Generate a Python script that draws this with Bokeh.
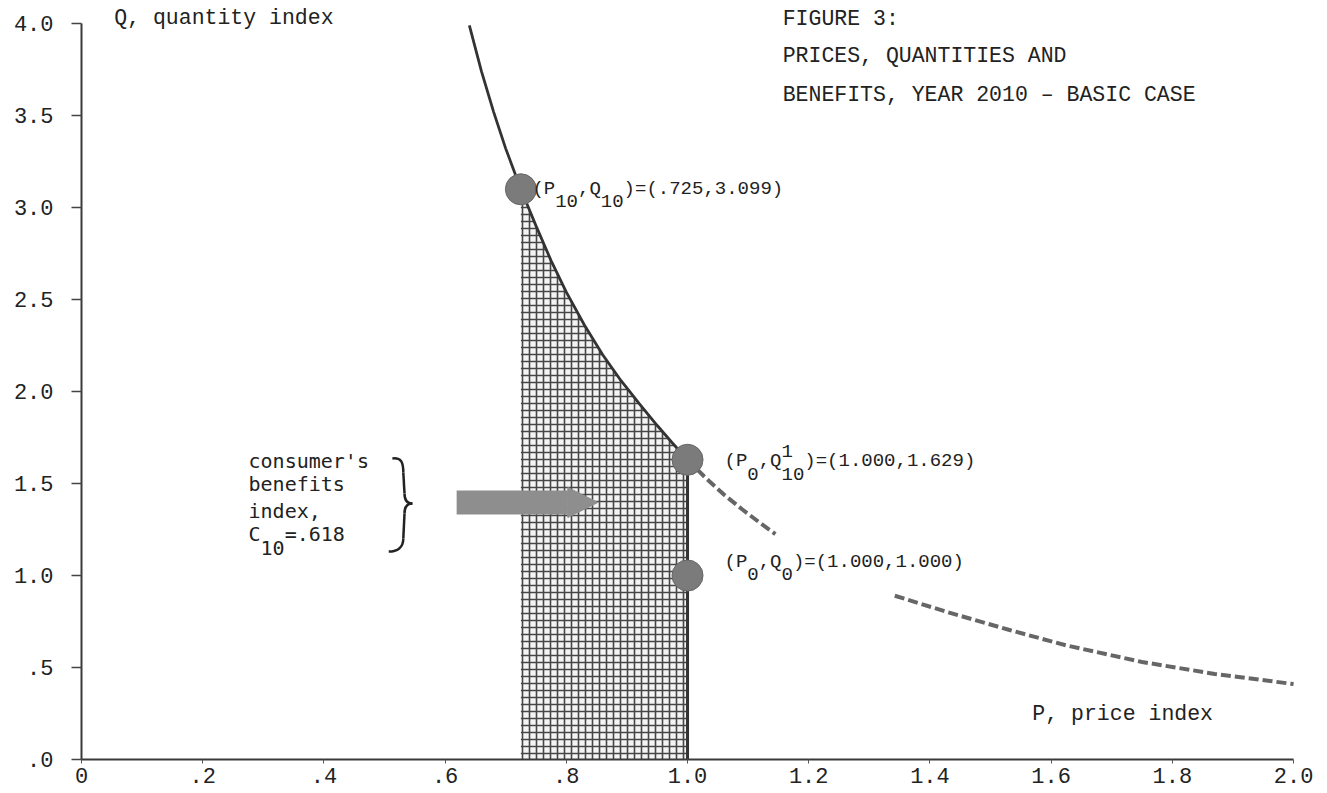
import numpy as np
from bokeh.plotting import figure
from bokeh.models import Range1d, FixedTicker, Arrow, NormalHead
from bokeh.core.properties import value
from bokeh.embed import file_html
from bokeh.resources import INLINE

# ---------------- data ----------------
# demand curve, solid part (P = price index, Q = quantity index)
P_solid = [0.640, 0.66, 0.68, 0.70, 0.725, 0.75, 0.775, 0.80, 0.83, 0.86, 0.89, 0.92, 0.95, 0.975, 1.0]
Q_solid = [3.99, 3.74, 3.52, 3.32, 3.099, 2.90, 2.71, 2.54, 2.36, 2.20, 2.06, 1.935, 1.815, 1.72, 1.629]
# dashed continuation, first piece
P_dash1 = [1.0, 1.03, 1.06, 1.09, 1.12, 1.145]
Q_dash1 = [1.629, 1.53, 1.44, 1.36, 1.285, 1.225]
# dashed continuation, second piece
P_dash2 = [1.342, 1.43, 1.53, 1.625, 1.75, 1.87, 2.0]
Q_dash2 = [0.89, 0.80, 0.705, 0.62, 0.53, 0.465, 0.41]
# marked points
P_pts = [0.725, 1.0, 1.0]
Q_pts = [3.099, 1.629, 1.0]
P10 = 0.725   # left edge of consumer's benefit area

x_ticks = [0, 0.2, 0.4, 0.6, 0.8, 1.0, 1.2, 1.4, 1.6, 1.8, 2.0]
x_labels = ["0", ".2", ".4", ".6", ".8", "1.0", "1.2", "1.4", "1.6", "1.8", "2.0"]
y_ticks = [0, 0.5, 1.0, 1.5, 2.0, 2.5, 3.0, 3.5, 4.0]
y_labels = [".0", ".5", "1.0", "1.5", "2.0", "2.5", "3.0", "3.5", "4.0"]

# ---------------- figure ----------------
INK = "#222222"
MONO = "Liberation Mono"

p = figure(width=1327, height=793, output_backend="svg", toolbar_location=None,
           x_range=Range1d(0, 2.056), y_range=Range1d(0, 4.125),
           min_border_left=81, min_border_right=0, min_border_top=0, min_border_bottom=34)
p.outline_line_color = None
p.grid.visible = False
p.background_fill_color = "white"
p.border_fill_color = "white"

xa = p.xaxis[0]
xa.ticker = FixedTicker(ticks=x_ticks, minor_ticks=[])
xa.major_label_overrides = {t: l for t, l in zip(x_ticks, x_labels)}
xa.bounds = (0, 2.0)
xa.axis_line_width = 2
xa.axis_line_color = "#3a3a3a"
xa.major_tick_out = 4
xa.major_tick_in = 0
xa.major_tick_line_color = "#555555"
xa.major_label_standoff = 4
xa.major_label_text_font = MONO
xa.major_label_text_font_size = "22px"
xa.major_label_text_color = INK

ya = p.yaxis[0]
ya.ticker = FixedTicker(ticks=y_ticks, minor_ticks=[])
ya.major_label_overrides = {t: l for t, l in zip(y_ticks, y_labels)}
ya.bounds = (0, 4.0)
ya.axis_line_width = 2
ya.axis_line_color = "#3a3a3a"
ya.major_tick_out = 10
ya.major_tick_in = 0
ya.major_tick_line_width = 1.5
ya.major_tick_line_color = "#444444"
ya.major_label_standoff = 18
ya.major_label_text_font = MONO
ya.major_label_text_font_size = "22px"
ya.major_label_text_color = INK

# ---------------- consumer's benefit area (hatched) ----------------
Ps = np.array(P_solid)
Qs = np.array(Q_solid)
mask = Ps >= P10
p.varea(x=Ps[mask], y1=np.zeros(mask.sum()), y2=Qs[mask],
        fill_color="#f4f4f4", fill_alpha=1.0,
        hatch_pattern="cross", hatch_scale=7, hatch_weight=1.6,
        hatch_color="#333333", hatch_alpha=0.9)
# right edge of the area at P0
p.segment(x0=[P_solid[-1]], y0=[0], x1=[P_solid[-1]], y1=[Q_solid[-1]],
          line_width=3, line_color="#333333")

# ---------------- curves ----------------
p.line(P_solid, Q_solid, line_width=2.8, line_color="#333333")
p.line(P_dash1, Q_dash1, line_width=4, line_color="#666666", line_dash="10 4")
p.line(P_dash2, Q_dash2, line_width=4, line_color="#666666", line_dash="10 4")

# ---------------- points ----------------
p.scatter(P_pts, Q_pts, size=31, fill_color="#7b7b7b", line_color="#666666", line_width=1)

# ---------------- arrow ----------------
p.add_layout(Arrow(x_start=0.619, y_start=1.397, x_end=0.852, y_end=1.397,
                   line_width=24, line_color="#8e8e8e",
                   end=NormalHead(size=30, fill_color="#8e8e8e", line_color="#8e8e8e")))

# ---------------- brace ----------------
p.bezier(x0=[0.513, 0.533, 0.546, 0.531],
         y0=[1.636, 1.446, 1.391, 1.201],
         x1=[0.531, 0.546, 0.533, 0.507],
         y1=[1.560, 1.391, 1.337, 1.130],
         cx0=[0.528, 0.533, 0.538, 0.531],
         cy0=[1.641, 1.408, 1.391, 1.152],
         cx1=[0.531, 0.538, 0.533, 0.521],
         cy1=[1.614, 1.391, 1.375, 1.130],
         line_width=2.5, line_color=INK)
p.segment(x0=[0.531, 0.533], y0=[1.560, 1.337], x1=[0.533, 0.531], y1=[1.446, 1.201],
          line_width=2.5, line_color=INK)

# ---------------- texts ----------------
def txt(x, y, s, size="21.5px", font=MONO, xo=0, yo=0, color=INK):
    p.text(x=[x], y=[y], text=[s], x_offset=xo, y_offset=yo,
           text_font=value(font), text_font_size=size, text_color=color,
           text_align="left", text_baseline="middle")

txt(0.054, 4.03, "Q, quantity index")
txt(1.157, 4.027, "FIGURE 3:")
txt(1.157, 3.826, "PRICES, QUANTITIES AND")
txt(1.157, 3.609, "BENEFITS, YEAR 2010 \u2013 BASIC CASE")
txt(1.569, 0.25, "P, price index")

CW = 0.6 * 19  # monospace advance at 19px
def parts(x, y, items):
    for col, s, yo in items:
        txt(x, y, s, size="19px", xo=col * CW, yo=yo)

parts(0.744, 3.103, [(0, "(P", 0), (2, "10", 12), (4, ",Q", 0), (6, "10", 12), (8, ")=(.725,3.099)", 0)])
parts(1.061, 1.625, [(0, "(P", 0), (2, "0", 13), (3, ",Q", 0), (5, "1", -10), (5, "10", 13), (7, ")=(1.000,1.629)", 0)])
parts(1.061, 1.071, [(0, "(P", 0), (2, "0", 12), (3, ",Q", 0), (5, "0", 12), (6, ")=(1.000,1.000)", 0)])

SANS_MONO = "DejaVu Sans Mono"
CW2 = 0.602 * 20
txt(0.2756, 1.625, "consumer's", size="20px", font=SANS_MONO)
txt(0.2756, 1.495, "benefits", size="20px", font=SANS_MONO)
txt(0.2756, 1.353, "index,", size="20px", font=SANS_MONO)
txt(0.2756, 1.228, "C", size="20px", font=SANS_MONO)
txt(0.2756, 1.228, "10", size="20px", font=SANS_MONO, xo=CW2, yo=14)
txt(0.2756, 1.228, "=.618", size="20px", font=SANS_MONO, xo=3 * CW2)

open("out.html", "w").write(file_html(p, INLINE))
